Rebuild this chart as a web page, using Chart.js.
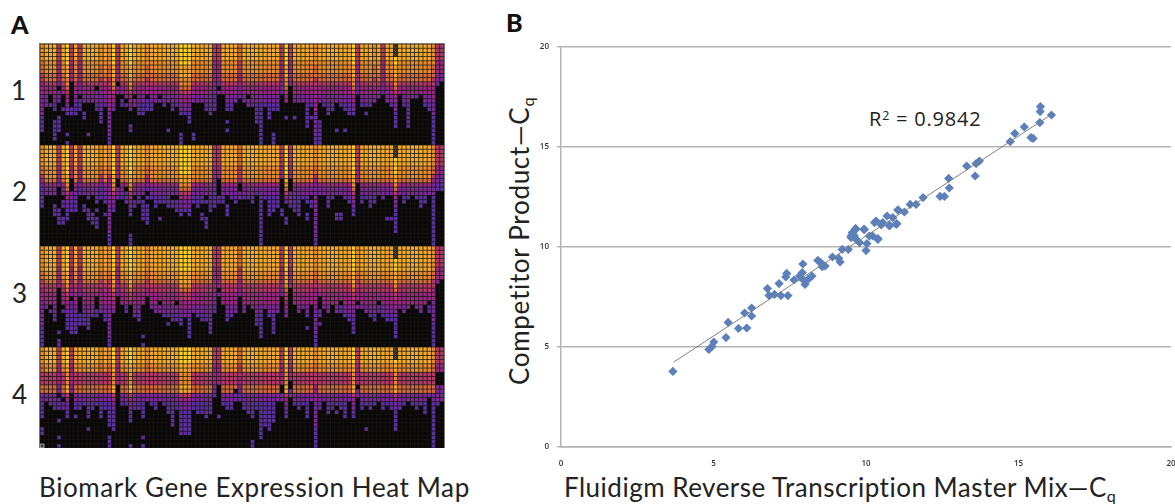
<!DOCTYPE html>
<html><head><meta charset="utf-8">
<script src="https://cdn.jsdelivr.net/npm/chart.js@4"></script>
<style>
html,body{margin:0;padding:0;background:#fff;width:1175px;height:504px;overflow:hidden}
.t{position:absolute;font-family:Lato,sans-serif;color:#222;white-space:nowrap;line-height:1}
sub{font-size:62%;vertical-align:baseline;position:relative;top:.3em}
sup{font-size:62%;vertical-align:baseline;position:relative;top:-.45em}
#hw{position:absolute;left:38.5px;top:42.5px;width:404px;height:404px;border:solid #7a7a7a;border-width:1.5px 1.5px 0 1.5px}
#sw{position:absolute;left:530px;top:32px;width:660px;height:450px}
</style></head><body>
<div class="t" style="left:11px;top:12px;font-size:25px;font-weight:900;color:#111">A</div>
<div class="t" style="left:506px;top:10px;font-size:25px;font-weight:900;color:#111">B</div>
<div class="t" style="left:11px;top:77px;font-size:26px">1</div>
<div class="t" style="left:12px;top:178px;font-size:26px">2</div>
<div class="t" style="left:12px;top:280px;font-size:26px">3</div>
<div class="t" style="left:12px;top:381px;font-size:26px">4</div>
<div class="t" style="left:39px;top:474px;font-size:26px;letter-spacing:.6px">Biomark Gene Expression Heat Map</div>
<div class="t" style="left:564px;top:474px;font-size:26px;letter-spacing:.5px">Fluidigm Reverse Transcription Master Mix—C<sub>q</sub></div>
<div class="t" style="left:506px;top:385px;font-size:26px;letter-spacing:.7px;transform-origin:0 0;transform:rotate(-90deg)">Competitor Product—C<sub>q</sub></div>
<div class="t" style="left:869px;top:109px;font-size:20px;letter-spacing:.8px;font-family:'Open Sans',sans-serif;color:#222">R<sup>2</sup> = 0.9842</div>
<div id="hw"><canvas id="heat" width="404" height="404"></canvas></div>
<div id="sw"><canvas id="scat" width="660" height="450"></canvas></div>
<script>
// Heat map: each token is one assay column, top row first; digit = colour level, x = failed well, omitted tail = black
const blockOne = `
777766655444333332222 888877766544333 888877766544002 88887776654433220022122 555544444303320002222 8888777665440002 999998887765443320000202 55554444400000022 88887776654433222 5555444443330222 888877766544330022 8888777665443300000002
88887776654433 8888777665033322 7777766655443332222 888877766544332 777776665544444433333322 9999988877654433 55554444403300 888877766544022 888877766544302 999998887765443300022 888877766544033 88887776654433222
88887776654433222 7777766655440222 8888777665443322 88887776654433 88887776654403 888877766544332 888877766544330000002 8888777665443322 888877766544332 999998887765443320000222 99999888776544332 9999988877654433222
88887776654433000000022 88887776654433 88887776654433 8888777665443322 88887776654433222 5555444443332222 555544444303 888877766544 888877766544332200202 8888777665443322 88887776654433 6666555444332
88887776654433 888877766544033 888877766544332 8888777665443322222 888877766544332222222221 888877766544332 888877766544332222 888877766544332200000222 8888777665443322 555544444332 999998887765440002 5555444443
888877766544330002 88887776654433 88887776654433 88887776654433222222 888877766544332002 777776665544444433333322 888877766544330000222222 888877766544332 88887776654433222 8888777665443322 888877766544330000002 888877766544332
888877766544332200002 88887776654433222 99999888776544332 555544444332 888877766544332 88887776654433202 888877766544332 77777666554433 8888777665443 555544444332 88887776654433 888877766544332
xxx99888776544332222 888877766544 888877766544332 88887776654433222222 8888777665443 8888777665443 888877766544 888877766544332 8888777665443322 777776665544433332222222 5555444332 555544433
`.trim().split(/\s+/);
const blockTwo = `
777776654322222 888887776433 888887776433 88888777643300222 5555544433000002222 8888877764330220022 999999988765433222 5555544400033222 8888877764332222 555554443322 8888877764330022 888887776433200222
8888877764330000222 88888777643322020222 7777766543222 88888777643322002 777776654333333333333222 9999999887654332 5555544400332 8888877764332 88888777640222 999999988765433220000222 888887776433022 88888777643322
888887776433022222 7777766543202022222 8888877764332 888887776433222 888887776433220002 88888777643322 888887776433222 888887776433022 8888877764330222 99999998876543322 9999999887654332 99999998876543322
88888777643322 888887776433222 888887776433220022 88888777643302000222 8888877764332222 555554443322222 55555444000022 88888777643322 88888777643300222 8888877764332 88888777643322 6666655540033
8888877764332 8888877764332 88888777643322 888887776432 888887776433222222222222 8888877764332 88888777643322222 8888877764332222 888887776433222 55555444000000022 9999999887653200022 555554440003332
8888877764332222 88888777643322222 8888877764332 888887776433220022 888887776433022 777776654333333333333322 888887776433 888887776433 888887776433222 8888877764332 888887776433000022 888887776433000022
8888877764332 88888777643322 99999998876543322 5555544440 88888777643322 8888877764332 888887776433222 88888777643322 888887776433 8888877764332 888887776433000002 888887776433000002
xxx999988765433222222 888887776433 88888777643322 8888877764332 888887776433 8888877764332 888887776433222 88888777643322 888887776433 777776654333222222222222 55555443322 55555443322
`.trim().split(/\s+/);
const blockThree = `
777777665544433333322222 888888776554443 8888887765544402 888888776554443322 555554444400000000002022 8888887765544402 99999988876554433222 555554444433022222222 888888776554443322222 5555544444330000222 8888887765544433222 88888877655444332222
88888877655444332 88888877655400022 7777776655444433 888888776554443322 777777665544443333333322 9999998887655443 555554444433 888888776554440 8888887765544422 99999988876554 88888877655444332 888888776554443322
888888776554440000000202 777777665544 888888776554443 8888887765544433 8888887765544033 88888877655444332 8888887765544433202 888888776554443322 888888776554403322 9999998887655443322 99999988876554433 9999998887655443322222
8888887765544433 88888877655444332 888888776554443322 888888776554443322 888888776554443322222 5555544444433322 555554444403 88888877655444 888888776554443322 88888877655444332 8888887765544433 666665554433
8888887765544433 88888877655444 888888776554443 8888887765544433222 8888887765544433222222 888888776554443 88888877655444332 888888776554443322222 8888887765544433 555554444433 99999988876554433 5555544444
88888877655444 8888887765544433 888888776554443 88888877655444332002 88888877655444 777777665544443333333222 8888887765540002202 888888776554443 8888887765544433 88888877655444 8888887765544433 8888887765544022
88888877655444332 888888776554443322 999999888765544332222 777777665544403 888888776554443 8888887765544433 88888877655444332 888888776554443322 8888887765544022 88888877655444332 888888776554443322 888888776554443322
xxx9998887655443322222 888888776554443 8888887765544433 888888776554443 88888877655444 888888776554443 8888887765544433 88888877655444 8888887765544022 777777665544433333222222 555554443 55555444
`.trim().split(/\s+/);
const blockFour = `
777766555663322220022 8888775556633 88887755566332 888877555663322 555544444330222002000202 888877555663022 99998877788543322 55554444433 88887755566332202 888877555663322 88887755566332 88887755566332222002
888877555663322 88887755566332 77776655566332222 888877555663322 777766555663322222200222 99998877788543322222 555544444 88887755566332 88887755566332 999988777885433222000002 888877555663322 888877555663322
888877555663322220000202 7777665556633 88887755566332 888877555663322 8888775556633 88887755566332 8888775556633222 8888775556633222222 888877555663322 999988777885433222222 999988777885433222222 999988777885433222222
888877555663322 8888775556633222 8888775556633222 88887755566332222 8888775556633222 555544444332 55554444400000002 88887755566332 888877555663322 888877555663322 8888775556033 6666555443322
888877555663322 8888775556633222 888877555663322220000022 888877555663322 8888775556633222222222 8888775556633222222 88887755566332222222 888877555663322222 8888775556633 5555444440033 99998877788543322 5555444400330
88887755566332 888877555663322 88887755566332 88887755566332222 8888775556633 777766555444433333322222 888877555663322 8888775556633 8888775556633222 888877555663322 8888775556633202 888877555663322
88887755566332222 8888775556633 99998877788543322 555544444033 888877555663322 88887755566332000002 888877555663322 88887755566332 8888775556633 888877555663322 88887755566332 888877555663322
xxx98877788543322222 888877555663322 88887755566332 8888775556633 88887755566332 888877555663322 88887755566332 8888775556633222 888877555663 777766555663322222222222 55554400033332 5555440003333
`.trim().split(/\s+/);
const heatBlocks = [blockOne, blockTwo, blockThree, blockFour];
const levelColors = ['#080808','#3f35a6','#5a2f9e','#7a2a96','#962a80','#b23a68','#cf6a3a','#e28c2c','#f1aa28','#fbd21e'];
const failedColor = '#5c5a40';
const rowsPerBlock = 24, columnCount = 96;

// Scatter panel: x = Fluidigm RT master mix Cq, y = competitor product Cq
const mixCq = [3.67,5.48,5.01,4.95,4.85,5.41,5.82,6.09,6.02,6.25,6.25,6.77,6.82,7.0,7.15,7.21,7.44,7.37,7.4,7.64,7.82,7.91,7.93,7.91,8.0,8.1,8.23,8.42,8.51,8.56,8.66,8.9,9.11,9.15,9.22,9.42,9.55,9.66,9.51,9.62,9.68,9.79,10.0,10.03,9.95,10.22,10.39,10.28,10.33,10.69,10.5,10.77,10.99,11.04,10.88,11.06,11.26,11.45,11.64,11.87,12.43,12.57,12.73,12.71,13.3,13.58,13.61,13.72,14.73,14.88,15.19,15.41,15.48,15.7,15.71,15.72,16.08,9.57,9.66,9.93,11.01,10.77,10.39,9.51,10.11,10.55];
const competitorCq = [3.78,6.23,5.25,5.03,4.88,5.47,5.93,5.95,6.7,6.95,6.55,7.92,7.58,7.63,8.17,7.57,7.57,8.5,8.68,8.35,8.55,8.72,9.15,8.4,8.13,8.38,8.55,9.33,9.23,9.02,9.05,9.5,9.43,9.25,9.88,9.88,10.72,10.87,10.55,10.55,10.38,10.22,9.82,10.17,10.88,10.55,10.38,11.22,11.3,11.55,11.1,11.1,11.13,11.85,11.47,11.85,11.75,12.13,12.13,12.47,12.53,12.53,12.95,13.43,14.05,13.55,14.17,14.3,15.27,15.68,16.0,15.47,15.43,16.22,16.77,17.02,16.6,10.63,10.93,10.88,11.17,11.05,10.42,10.47,10.55,11.22];
const trendX = [3.7,16.1];
const trendY = [4.25,16.65];
const axisTicks = [0,5,10,15,20];

const cells=[], cellColors=[], failed=[];
heatBlocks.forEach((blk,b)=>{
  for(let c=0;c<columnCount;c++){
    const s=((blk[c]||'')+'0'.repeat(rowsPerBlock)).slice(0,rowsPerBlock);
    for(let r=0;r<rowsPerBlock;r++){
      const ch=s[r];
      const pt={x:c+.5,y:b*rowsPerBlock+r+.5};
      cells.push(pt);
      if(ch==='x'){cellColors.push(failedColor);failed.push(pt);}
      else cellColors.push(levelColors[+ch]);
    }
  }
});
const gridBg={id:'gridBg',beforeDraw(ch){const a=ch.chartArea,x=ch.ctx;x.save();x.fillStyle='#181410';x.fillRect(a.left,a.top,a.width,a.height);x.restore();}};
new Chart(document.getElementById('heat'),{
  type:'scatter',
  data:{datasets:[
    {label:'cross',data:failed,pointStyle:'crossRot',radius:1.8,borderWidth:1,pointBorderColor:'#111',pointBackgroundColor:'#111'},
    {label:'corner',data:[{x:.5,y:95.5}],pointStyle:'rect',radius:2.6,pointBorderWidth:1,pointBorderColor:'#aaa',pointBackgroundColor:'#333'},
    {label:'cells',data:cells,pointStyle:'rect',radius:2.45,borderWidth:0,pointBorderWidth:0,pointBackgroundColor:cellColors}
  ]},
  options:{responsive:false,animation:false,events:[],layout:{padding:0,autoPadding:false},
    plugins:{legend:{display:false},tooltip:{enabled:false}},
    scales:{x:{display:false,min:0,max:columnCount},y:{display:false,min:0,max:columnCount,reverse:true}}},
  plugins:[gridBg]
});
new Chart(document.getElementById('scat'),{
  type:'scatter',
  data:{datasets:[
    {label:'trend',type:'line',data:trendX.map((x,i)=>({x,y:trendY[i]})),borderColor:'#7f7f7f',borderWidth:1,pointRadius:0,order:0},
    {label:'wells',data:mixCq.map((x,i)=>({x,y:competitorCq[i]})),pointStyle:'rectRot',radius:4.6,borderWidth:0,pointBorderWidth:0,pointBackgroundColor:'#5b80bb',order:1}
  ]},
  options:{responsive:false,animation:false,events:[],layout:{padding:{right:19,top:15},autoPadding:false},
    plugins:{legend:{display:false},tooltip:{enabled:false}},
    scales:{
      x:{type:'linear',min:0,max:20,afterBuildTicks(s){s.ticks=axisTicks.map(v=>({value:v}));},
         afterFit(s){s.height=35;s.paddingLeft=0;s.paddingRight=0;},
         grid:{display:false,drawTicks:true,tickLength:3,tickColor:'#b3b3b3'},border:{color:'#b3b3b3',width:1.5},
         ticks:{maxRotation:0,padding:9,font:{family:'Open Sans',size:8,weight:'600'},color:'#333'}},
      y:{type:'linear',min:0,max:20,afterBuildTicks(s){s.ticks=axisTicks.map(v=>({value:v}));},
         afterFit(s){s.width=31;s.paddingTop=0;s.paddingBottom=0;},
         grid:{color:'#b3b3b3',lineWidth:1.5,tickLength:4,tickColor:'#b3b3b3'},border:{color:'#b3b3b3',width:1.5},
         ticks:{padding:8,font:{family:'Open Sans',size:8,weight:'600'},color:'#333'}}
    }}
});
</script>
</body></html>
